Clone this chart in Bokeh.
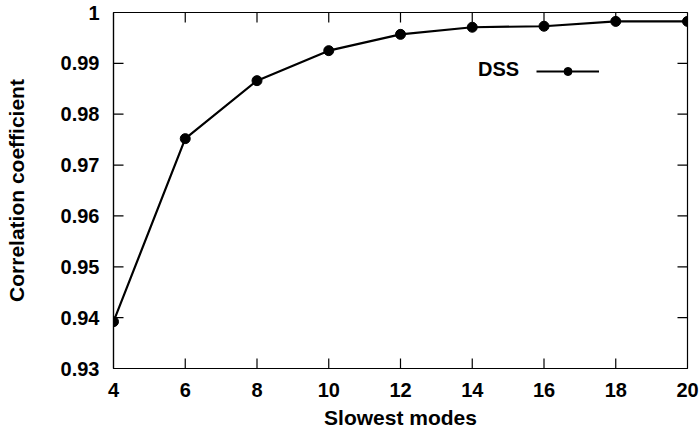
from bokeh.plotting import figure
from bokeh.models import FixedTicker, Range1d, Legend, LegendItem
from bokeh.embed import file_html
from bokeh.resources import INLINE

# data
modes = [4, 6, 8, 10, 12, 14, 16, 18, 20]
corr = [0.9392, 0.9752, 0.9866, 0.9925, 0.9957, 0.9971, 0.9973, 0.99825, 0.99825]
x_ticks = [4, 6, 8, 10, 12, 14, 16, 18, 20]
y_ticks = [0.93, 0.94, 0.95, 0.96, 0.97, 0.98, 0.99, 1.0]
y_tick_labels = ["0.93", "0.94", "0.95", "0.96", "0.97", "0.98", "0.99", "1"]
series_name = "DSS"
x_title = "Slowest modes"
y_title = "Correlation coefficient"

FONT = "Liberation Sans"
W, H = 699, 432
BL, BR, BT, BB = 113, 12, 12, 64
FW, FH = W - BL - BR, H - BT - BB
X0, X1 = x_ticks[0], x_ticks[-1]
Y0, Y1 = y_ticks[0], y_ticks[-1]
TICK = 10  # px

p = figure(width=W, height=H, output_backend="svg", toolbar_location=None,
           x_range=Range1d(X0, X1), y_range=Range1d(Y0, Y1),
           min_border_left=BL, min_border_right=BR, min_border_top=BT,
           min_border_bottom=BB)
p.margin = (0, 0, 0, 0)
p.xgrid.visible = False
p.ygrid.visible = False
p.outline_line_color = "black"
p.outline_line_width = 1.2
p.background_fill_color = "white"
p.border_fill_color = "white"

for ax, ticks in ((p.xaxis[0], x_ticks), (p.yaxis[0], y_ticks)):
    ax.ticker = FixedTicker(ticks=ticks)
    ax.major_tick_in = 0
    ax.major_tick_out = 0
    ax.minor_tick_in = 0
    ax.minor_tick_out = 0
    ax.axis_line_color = "black"
    ax.axis_line_width = 1.2
    ax.major_label_text_font = FONT
    ax.major_label_text_font_style = "bold"
    ax.major_label_text_color = "black"
    ax.major_label_text_font_size = "20px"
    ax.axis_label_text_font = FONT
    ax.axis_label_text_font_style = "bold"
    ax.axis_label_text_color = "black"
    ax.axis_label_text_font_size = "21px"

xa = p.xaxis[0]
ya = p.yaxis[0]
ya.major_label_overrides = {t: l for t, l in zip(y_ticks, y_tick_labels)}
xa.major_label_standoff = 14
ya.major_label_standoff = 14
xa.axis_label = x_title
ya.axis_label = y_title
xa.axis_label_standoff = 6
ya.axis_label_standoff = 30

# inward ticks on all four sides (gnuplot style), built from the tick arrays
dx = TICK * (X1 - X0) / FW
dy = TICK * (Y1 - Y0) / FH
inner_x = x_ticks[1:-1]
inner_y = y_ticks[1:-1]
p.segment(x0=inner_x, y0=[Y0] * len(inner_x), x1=inner_x, y1=[Y0 + dy] * len(inner_x),
          line_color="black", line_width=1.2)
p.segment(x0=inner_x, y0=[Y1] * len(inner_x), x1=inner_x, y1=[Y1 - dy] * len(inner_x),
          line_color="black", line_width=1.2)
p.segment(x0=[X0] * len(inner_y), y0=inner_y, x1=[X0 + dx] * len(inner_y), y1=inner_y,
          line_color="black", line_width=1.2)
p.segment(x0=[X1] * len(inner_y), y0=inner_y, x1=[X1 - dx] * len(inner_y), y1=inner_y,
          line_color="black", line_width=1.2)

ln = p.line(modes, corr, line_color="black", line_width=2.2)
sc = p.scatter(modes, corr, size=10, fill_color="black", line_color="black")

common = dict(orientation="vertical", padding=0, margin=0, spacing=0,
              glyph_height=20, label_height=20,
              label_text_font=FONT, label_text_font_style="bold",
              label_text_font_size="20px", label_text_color="black",
              background_fill_alpha=0, border_line_alpha=0)
leg_text = Legend(items=[LegendItem(label=series_name, renderers=[ln])],
                  location=(365, 287), glyph_width=0, label_standoff=0, **common)
leg_glyph = Legend(items=[LegendItem(label=" ", renderers=[ln, sc])],
                   location=(423, 287), glyph_width=63, label_standoff=0, **common)
p.add_layout(leg_text, "center")
p.add_layout(leg_glyph, "center")

open("out.html", "w").write(file_html(p, INLINE))
